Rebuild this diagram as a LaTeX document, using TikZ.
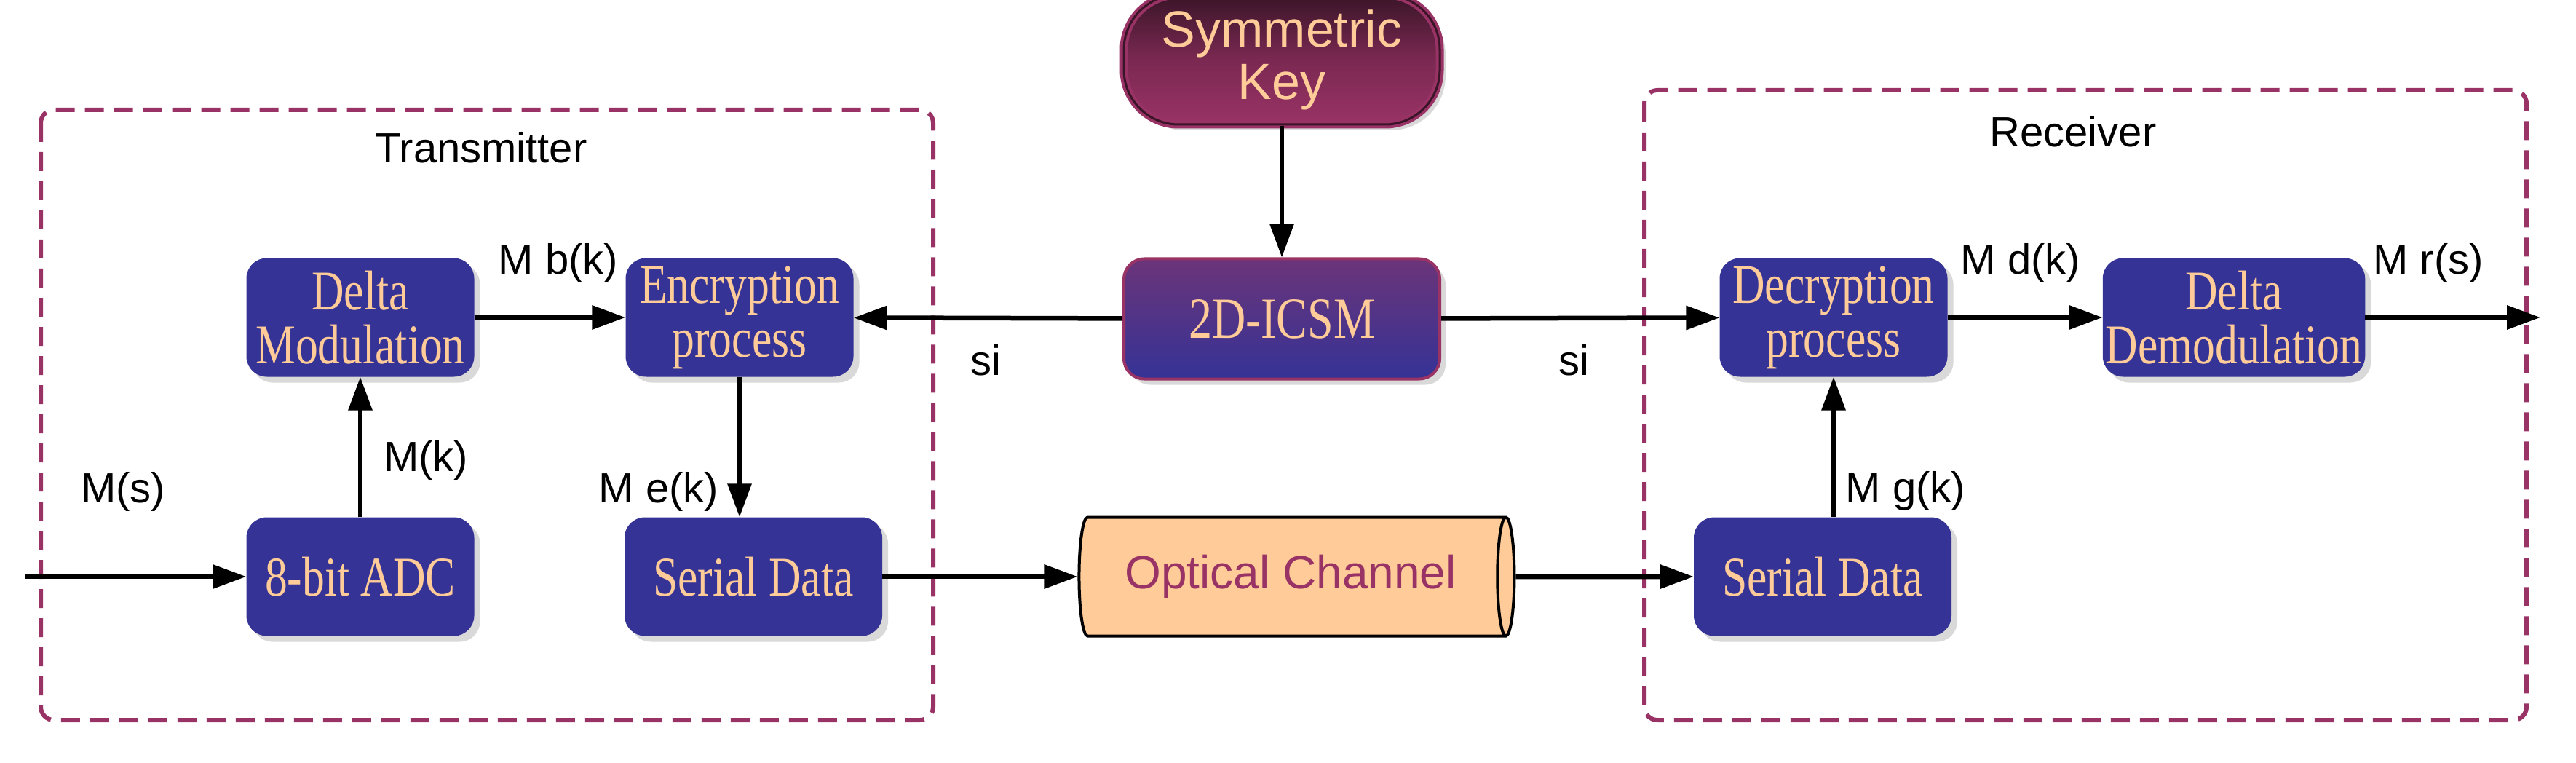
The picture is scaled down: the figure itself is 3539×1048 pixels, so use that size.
\documentclass[tikz,border=0pt]{standalone}
\usepackage{fontspec}
\setmainfont{Liberation Serif}
\newfontfamily\sansf{Liberation Sans}
\newfontfamily\nserif{Liberation Serif}[FakeStretch=0.8]
\usetikzlibrary{shapes.geometric,shadows,arrows.meta}
\definecolor{boxblue}{HTML}{353396}
\definecolor{peach}{HTML}{FFCC99}
\definecolor{plum}{HTML}{993366}
\definecolor{darkplum}{HTML}{3A1528}
\definecolor{violet}{HTML}{6B3479}
\begin{document}
\begin{tikzpicture}[x=1pt,y=-1pt,
  blk/.style={draw=none,fill=boxblue,rounded corners=28pt,minimum width=313pt,minimum height=163pt,inner sep=4pt,align=center,text=peach,font=\nserif\fontsize{77}{74}\selectfont,drop shadow={opacity=0.3,shadow xshift=8pt,shadow yshift=-8pt}},
  lbl/.style={font=\sansf\fontsize{58}{60}\selectfont},
  arr/.style={line width=6.5pt,-{Triangle[length=46pt,width=32pt]}},
  frame/.style={draw=plum,line width=6pt,dash pattern=on 26pt off 14pt,rounded corners=18pt}]
\useasboundingbox (0,0) rectangle (3539,1048);
\draw[frame] (56,151) rectangle (1282,989);
\draw[frame] (2259,124) rectangle (3471,989);
\node[lbl] (tx) at (661,203) {Transmitter};
\node[lbl] (rx) at (2848,181) {Receiver};
\node[blk] (dm) at (495,436) {Delta\\Modulation};
\node[blk] (adc) at (495,792) {8-bit ADC};
\node[blk] (enc) at (1016,436) {Encryption\\process};
\node[blk,minimum width=354pt] (sd1) at (1035,792) {Serial Data};
\node[blk] (dec) at (2519,436) {Decryption\\process};
\node[blk,minimum width=347pt] (dd) at (3069,436) {Delta\\Demodulation};
\node[blk,minimum width=354pt] (sd2) at (2504,792) {Serial Data};
\node[draw=plum,line width=4pt,double=darkplum,double distance=3pt,rounded corners=75pt,minimum width=434pt,minimum height=178pt,inner sep=2pt,top color=darkplum,bottom color=plum,middle color=plum!80!black,align=center,text=peach,font=\sansf\fontsize{70}{72}\selectfont,drop shadow={opacity=0.3,shadow xshift=8pt,shadow yshift=-8pt}] (key) at (1761,82) {Symmetric\\Key};
\node[draw=plum,line width=4pt,rounded corners=28pt,minimum width=434pt,minimum height=165pt,top color=violet,bottom color=boxblue,text=peach,font=\nserif\fontsize{80}{80}\selectfont,drop shadow={opacity=0.3,shadow xshift=8pt,shadow yshift=-8pt}] (icsm) at (1761,438) {2D-ICSM};
\node[cylinder,draw=black,line width=4pt,fill=peach,minimum width=163pt,minimum height=598pt,aspect=0.35,text=plum,font=\sansf\fontsize{64}{66}\selectfont] (oc) at (1773,792) {Optical Channel};
\coordinate (in) at (34,792);
\coordinate (out) at (3490,436);
\draw[arr] (in) -- (adc);
\draw[arr] (adc) -- (dm);
\draw[arr] (dm) -- (enc);
\draw[arr] (enc) -- (enc |- sd1.north);
\draw[arr] (sd1) -- (oc);
\draw[arr] (oc) -- (sd2);
\draw[arr] (sd2.north -| dec) -- (dec);
\draw[arr] (dec) -- (dd);
\draw[arr] (dd) -- (out);
\draw[arr] (key) -- (icsm);
\draw[arr] (icsm) -- (enc);
\draw[arr] (icsm) -- (dec);
\node[lbl] (ms) at (169,675) {M(s)};
\node[lbl] (mk) at (585,632) {M(k)};
\node[lbl] (mb) at (767,361) {M b(k)};
\node[lbl] (me) at (905,675) {M e(k)};
\node[lbl] (mg) at (2618,675) {M g(k)};
\node[lbl] (md) at (2776,361) {M d(k)};
\node[lbl] (mr) at (3336,361) {M r(s)};
\node[lbl] (si1) at (1354,495) {si};
\node[lbl] (si2) at (2162,495) {si};
\end{tikzpicture}
\end{document}
